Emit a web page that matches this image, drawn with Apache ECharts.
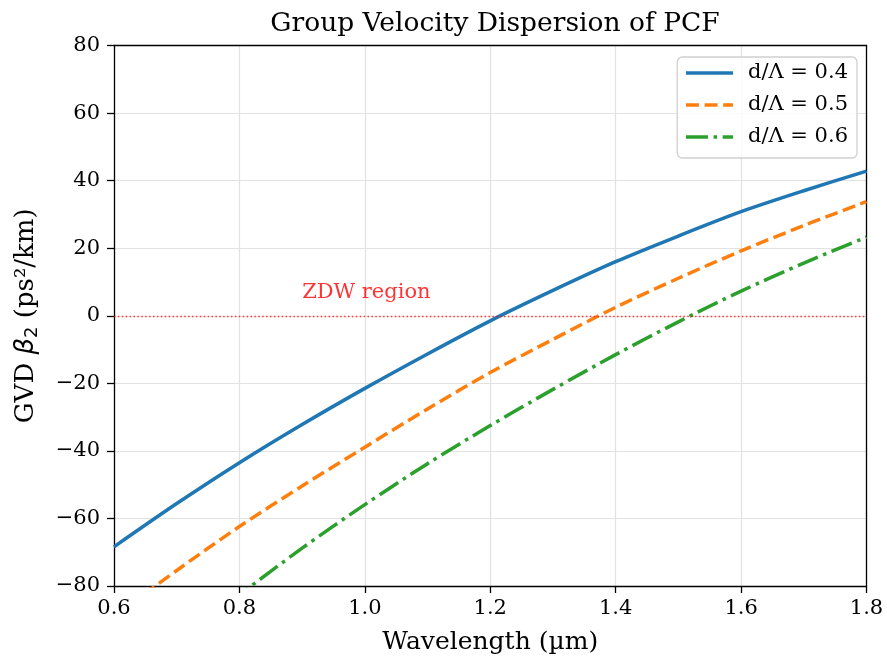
<!DOCTYPE html>
<html>
<head>
<meta charset="utf-8">
<script src="https://cdn.jsdelivr.net/npm/echarts@6/dist/echarts.min.js"></script>
<style>
html,body{margin:0;padding:0;background:#fff;}
#chart{width:887px;height:661px;}
</style>
</head>
<body>
<div id="chart"></div>
<script>
//波长 (µm)
var wavelength = [0.6, 0.7, 0.8, 0.9, 1.0, 1.1, 1.2, 1.3, 1.4, 1.5, 1.6, 1.7, 1.8];
//GVD β2 (ps²/km)，读图估计
var gvd04 = [-68.4, -55.6, -43.5, -32.2, -21.5, -11.3, -1.5, 7.5, 16.0, 23.6, 30.8, 37.0, 42.8];
var gvd05 = [-89.0, -75.4, -62.4, -50.4, -38.9, -27.6, -16.8, -7.0, 2.5, 11.1, 19.2, 26.7, 33.8];
var gvd06 = [-111.0, -96.5, -82.6, -68.8, -55.9, -43.8, -32.5, -21.8, -11.5, -1.8, 7.3, 15.6, 23.3];
var seriesNames = ['d/Λ = 0.4', 'd/Λ = 0.5', 'd/Λ = 0.6'];
var zdwLabel = {x: 0.9, y: 7, text: 'ZDW region'};

var serif = '"DejaVu Serif", serif';

function pairs(xs, ys)
{
	var out = [];
	for(var i=0;i<xs.length;i++)
	{
		out.push([xs[i], ys[i]]);
	}
	return out;
}

//上、右两条边框线（matplotlib的box）
var frameAxis = {
	axisLine: {show: true, onZero: false, lineStyle: {color: '#000', width: 1.3}},
	axisTick: {show: false}, axisLabel: {show: false}, splitLine: {show: false}
};

var myChart = echarts.init(document.getElementById('chart'));
var option = {
	backgroundColor: '#fff',
	animation: false,
	textStyle: {fontFamily: serif},
	title: {
		text: 'Group Velocity Dispersion of PCF',
		left: 490, top: 6, textAlign: 'center',
		textStyle: {fontFamily: serif, fontSize: 26.5, fontWeight: 'normal', color: '#000'}
	},
	grid: {left: 114, right: 20.5, top: 45.5, bottom: 75},
	legend: {
		data: seriesNames,
		orient: 'vertical',
		right: 30, top: 57,
		itemWidth: 47, itemHeight: 14, itemGap: 10,
		itemStyle: {opacity: 0},
		lineStyle: {width: 3.5},
		backgroundColor: 'rgba(255,255,255,0.8)',
		borderColor: '#d0d0d0', borderWidth: 1.3, borderRadius: 5,
		padding: [5, 9, 10, 7],
		textStyle: {fontFamily: serif, fontSize: 21, lineHeight: 22, color: '#000', padding: [0, 0, 0, 10]}
	},
	xAxis: [
		{
			type: 'value', min: 0.6, max: 1.8, interval: 0.2,
			name: 'Wavelength (µm)', nameLocation: 'middle', nameGap: 44,
			nameTextStyle: {fontFamily: serif, fontSize: 25, color: '#000'},
			axisLine: {show: true, onZero: false, lineStyle: {color: '#000', width: 1.3}},
			axisTick: {show: true, length: 7, lineStyle: {color: '#000', width: 1.3}},
			axisLabel: {fontFamily: serif, fontSize: 21, color: '#000', margin: 12,
				formatter: function(v){ return v.toFixed(1); }},
			splitLine: {show: true, lineStyle: {color: '#e2e2e2', width: 1.2}}
		},
		Object.assign({type: 'value', min: 0.6, max: 1.8, position: 'top'}, frameAxis)
	],
	yAxis: [
		{
			type: 'value', min: -80, max: 80, interval: 20,
			name: '{n|GVD }{i|β}{s|2}{n| (ps²/km)}', nameLocation: 'middle', nameGap: 73, nameRotate: 90,
			nameTextStyle: {fontFamily: serif, fontSize: 26, color: '#000',
				rich: {
					n: {fontFamily: serif, fontSize: 26, color: '#000'},
					i: {fontFamily: '"DejaVu Sans", sans-serif', fontSize: 26, color: '#000', fontStyle: 'italic'},
					s: {fontFamily: '"DejaVu Sans", sans-serif', fontSize: 18, color: '#000', padding: [12, 0, 0, 0]}
				}},
			axisLine: {show: true, onZero: false, lineStyle: {color: '#000', width: 1.3}},
			axisTick: {show: true, length: 7, lineStyle: {color: '#000', width: 1.3}},
			axisLabel: {fontFamily: serif, fontSize: 21, color: '#000', margin: 14,
				formatter: function(v){ return String(v).replace('-', '\u2212'); }},
			splitLine: {show: true, lineStyle: {color: '#e2e2e2', width: 1.2}}
		},
		Object.assign({type: 'value', min: -80, max: 80, position: 'right'}, frameAxis)
	],
	series: [
		{
			name: seriesNames[0], type: 'line', data: pairs(wavelength, gvd04),
			smooth: 0.3, symbol: 'none', clip: true,
			lineStyle: {color: '#1f77b4', width: 3.5},
			itemStyle: {color: '#1f77b4'},
			markLine: {
				silent: true, symbol: 'none', label: {show: false},
				lineStyle: {color: 'rgba(255,0,0,0.75)', width: 1.4, type: [1.5, 2.4]},
				data: [{yAxis: 0}]
			},
			z: 3
		},
		{
			name: seriesNames[1], type: 'line', data: pairs(wavelength, gvd05),
			smooth: 0.3, symbol: 'none', clip: true,
			lineStyle: {color: '#ff7f0e', width: 3.5, type: [13, 5.6]},
			itemStyle: {color: '#ff7f0e'},
			z: 3
		},
		{
			name: seriesNames[2], type: 'line', data: pairs(wavelength, gvd06),
			smooth: 0.3, symbol: 'none', clip: true,
			lineStyle: {color: '#2ca02c', width: 3.5, type: [22, 5.6, 3.5, 5.6]},
			itemStyle: {color: '#2ca02c'},
			z: 3
		},
		{
			name: 'zdw', type: 'scatter', silent: true,
			data: [[zdwLabel.x, zdwLabel.y]], symbolSize: 0,
			label: {show: true, position: 'right', distance: 0, formatter: zdwLabel.text,
				fontFamily: serif, fontSize: 21, color: '#ff0000'}
		}
	]
};
myChart.setOption(option);
</script>
</body>
</html>
